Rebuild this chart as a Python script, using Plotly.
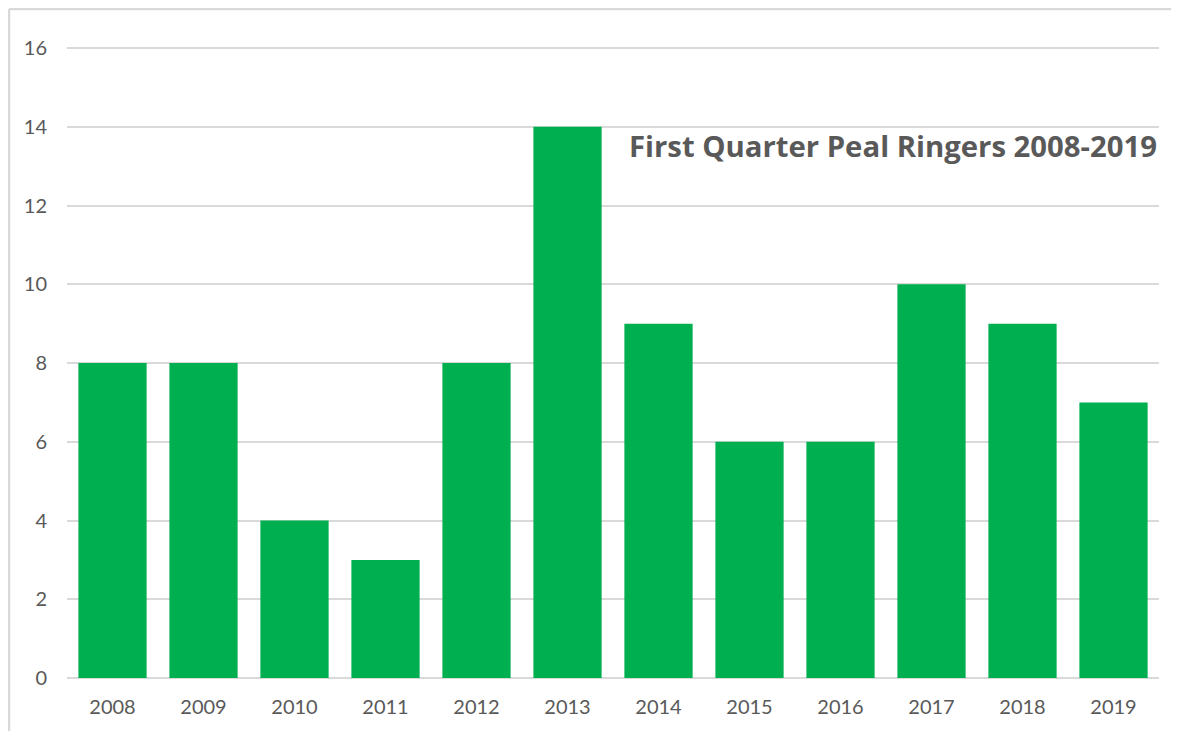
import plotly.graph_objects as go

years = ["2008", "2009", "2010", "2011", "2012", "2013", "2014", "2015", "2016", "2017", "2018", "2019"]
ringers = [8, 8, 4, 3, 8, 14, 9, 6, 6, 10, 9, 7]
title_text = "First Quarter Peal Ringers 2008-2019"

# page body has an 8px margin; the figure starts at (8, 8)
W, H = 1171, 723
L, R, B = 59, 20, 53
unit_px = 630 / 16.0
extra = 4 / unit_px
ymax = 16 + extra
ph = 630 + 4
T = H - B - ph
pw = W - L - R

fig = go.Figure(go.Bar(x=years, y=ringers, marker=dict(color="#00B050", line=dict(width=0))))

fig.update_layout(
    width=W, height=H,
    margin=dict(l=L, r=R, t=T, b=B),
    paper_bgcolor="white", plot_bgcolor="white",
    bargap=0.25,
    showlegend=False,
    font=dict(family="Lato, Open Sans, sans-serif", size=20, color="#595959"),
    xaxis=dict(showgrid=False, showline=False, ticks="", ticklabelstandoff=15,
               tickfont=dict(size=20, color="#595959")),
    yaxis=dict(range=[0, ymax], tickvals=[0, 2, 4, 6, 8, 10, 12, 14, 16],
               showgrid=True, gridcolor="#d9d9d9", gridwidth=1.5,
               zeroline=True, zerolinecolor="#d9d9d9", zerolinewidth=1.5,
               showline=False, ticks="", ticklabelstandoff=19,
               tickfont=dict(size=20, color="#595959")),
    annotations=[dict(text="<b>" + title_text + "</b>", xref="paper", yref="paper",
                      x=1.0, y=(H - B - 138) / ph, xanchor="right", yanchor="middle",
                      showarrow=False, font=dict(size=29.3, color="#595959",
                                                 family="Open Sans, Lato, sans-serif"))],
    shapes=[
        dict(type="line", xref="paper", yref="paper",
             x0=(1 - L) / pw, x1=(W + 5 - L) / pw, y0=(H - B - 1) / ph, y1=(H - B - 1) / ph,
             line=dict(color="#d9d9d9", width=2.5)),
        dict(type="line", xref="paper", yref="paper",
             x0=(1 - L) / pw, x1=(1 - L) / pw, y0=(H - B - 1) / ph, y1=-(B + 5) / ph,
             line=dict(color="#d9d9d9", width=2.5)),
    ],
)

fig.write_html("out.html")
